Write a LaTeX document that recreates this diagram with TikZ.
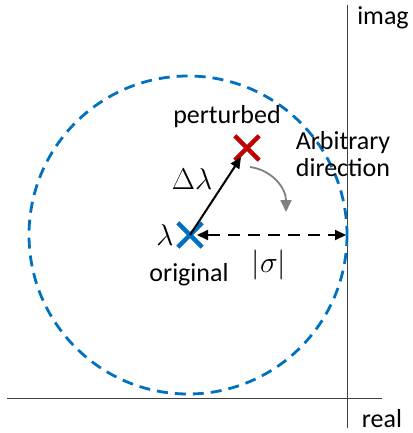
\RequirePackage{fix-cm}
\documentclass[tikz,border=0pt]{standalone}
\usepackage{fontspec}
\setmainfont{Carlito}
\usetikzlibrary{arrows.meta,shapes.misc}
\definecolor{offblue}{RGB}{0,112,192}
\definecolor{offred}{RGB}{192,0,0}
\definecolor{arcgray}{RGB}{128,128,128}
\tikzset{
  lbl/.style={font=\fontsize{26}{27}\selectfont, inner sep=0pt, anchor=base},
  mlbl/.style={font=\fontsize{30}{32}\selectfont, inner sep=0pt},
  xmark/.style={cross out, draw=#1, line width=4.3pt, minimum size=20pt, inner sep=0pt},
  axis/.style={draw=black!75, line width=0.8pt},
}
\begin{document}
\begin{tikzpicture}[x=1pt,y=-1pt]
\useasboundingbox (0,0) rectangle (412,433);
% axes
\coordinate (vtop) at (347.7,5);
\coordinate (vbot) at (347.7,428);
\coordinate (hl) at (7,398.3);
\coordinate (hr) at (382,398.3);
\draw[axis] (vtop) -- (vbot);
\draw[axis] (hl) -- (hr);
% circle
\draw[offblue, line width=2.8pt, dash pattern=on 11pt off 7pt] (188,235) circle (159);
% marks
\node[xmark=offblue] (orig) at (190,235) {};
\node[xmark=offred] (pert) at (247,148) {};
\coordinate (edge) at (346,235);
% arrows
\draw[line width=2pt, -{Triangle[length=11pt,width=10pt]}, shorten >=11pt] (orig.center) -- (pert.center);
\draw[line width=2pt, {Triangle[length=11pt,width=10pt]}-{Triangle[length=11pt,width=10pt]}, dash pattern=on 12pt off 8pt, shorten <=7pt] (orig.center) -- (edge);
\coordinate (ga) at (250,167);
\coordinate (gb) at (286,212);
\draw[arcgray, line width=1.8pt, -{Triangle[length=12pt,width=11pt]}] (ga) .. controls (272,170) and (286,188) .. (gb);
% labels
\node[lbl] (tpert) at (227,124) {perturbed};
\node[lbl, align=center] (tarb) at (343,176) {Arbitrary\\direction};
\node[lbl] (torig) at (189,281) {original};
\node[lbl] (timag) at (383,25) {imag};
\node[lbl] (treal) at (382,427) {real};
\node[mlbl, anchor=base] (tlam) at (165,245) {$\lambda$};
\node[mlbl, anchor=base] (tdl) at (192,189) {$\Delta\lambda$};
\node[mlbl, anchor=base] (tsig) at (269,272) {$|\sigma|$};
\end{tikzpicture}
\end{document}
